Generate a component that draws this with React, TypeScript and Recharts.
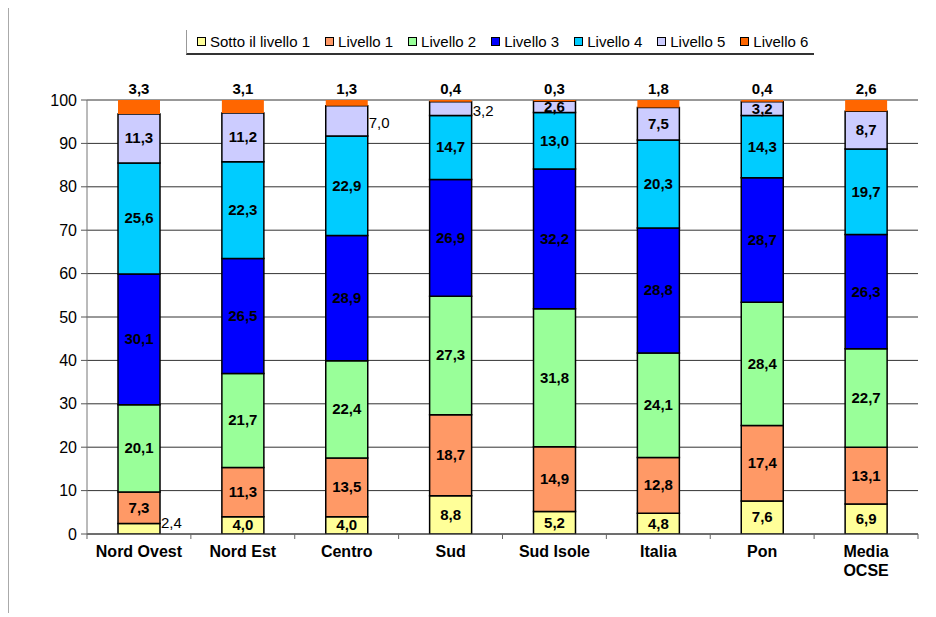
import React from 'react';
import { BarChart, Bar, XAxis, YAxis, CartesianGrid } from 'recharts';

const categories = ['Nord Ovest', 'Nord Est', 'Centro', 'Sud', 'Sud Isole', 'Italia', 'Pon', 'Media OCSE'];
const sotto1 = [2.4, 4.0, 4.0, 8.8, 5.2, 4.8, 7.6, 6.9];
const livello1 = [7.3, 11.3, 13.5, 18.7, 14.9, 12.8, 17.4, 13.1];
const livello2 = [20.1, 21.7, 22.4, 27.3, 31.8, 24.1, 28.4, 22.7];
const livello3 = [30.1, 26.5, 28.9, 26.9, 32.2, 28.8, 28.7, 26.3];
const livello4 = [25.6, 22.3, 22.9, 14.7, 13.0, 20.3, 14.3, 19.7];
const livello5 = [11.3, 11.2, 7.0, 3.2, 2.6, 7.5, 3.2, 8.7];
const livello6 = [3.3, 3.1, 1.3, 0.4, 0.3, 1.8, 0.4, 2.6];
const yTicks = [0, 10, 20, 30, 40, 50, 60, 70, 80, 90, 100];

const series = [
  { key: 's0', name: 'Sotto il livello 1', color: '#FFFF99', values: sotto1 },
  { key: 's1', name: 'Livello 1', color: '#FF9966', values: livello1 },
  { key: 's2', name: 'Livello 2', color: '#99FF99', values: livello2 },
  { key: 's3', name: 'Livello 3', color: '#0000FF', values: livello3 },
  { key: 's4', name: 'Livello 4', color: '#00CCFF', values: livello4 },
  { key: 's5', name: 'Livello 5', color: '#CCCCFF', values: livello5 },
  { key: 's6', name: 'Livello 6', color: '#FF6600', values: livello6 },
];

// labels drawn beside the bar instead of inside
const sideLabels: Record<string, number[]> = { s0: [0], s5: [2, 3] };

const data = categories.map((name, i) => {
  const row: Record<string, any> = { name };
  series.forEach((s) => (row[s.key] = s.values[i]));
  return row;
});

const font = '"Liberation Sans", Arial, sans-serif';
const fmt = (v: number) => v.toFixed(1).replace('.', ',');

const makeLabel = (s: (typeof series)[number]) => (props: any) => {
  const { x, y, width, height, index } = props;
  const v = s.values[index];
  if (s.key === 's6') {
    return (
      <text x={x + width / 2} y={y - 6} textAnchor="middle" fontSize={15} fontWeight="bold" fill="#000" fontFamily={font}>
        {fmt(v)}
      </text>
    );
  }
  if ((sideLabels[s.key] || []).includes(index)) {
    return (
      <text x={x + width + 1} y={s.key === 's0' ? y + height / 2 - 5 : y + height / 2 + 3} dominantBaseline="middle" fontSize={15} fill="#000" fontFamily={font}>
        {fmt(v)}
      </text>
    );
  }
  return (
    <text x={x + width / 2} y={y + height / 2 + 1} textAnchor="middle" dominantBaseline="middle" fontSize={15} fontWeight="bold" fill="#000" fontFamily={font}>
      {fmt(v)}
    </text>
  );
};

const XTick = (props: any) => {
  const { x, y, payload } = props;
  const lines = payload.value === 'Media OCSE' ? ['Media', 'OCSE'] : [payload.value];
  const half = 103.9 / 2;
  return (
    <g>
      <line x1={x - half} x2={x - half} y1={y - 8} y2={y - 3} stroke="#666" />
      {payload.index === categories.length - 1 && <line x1={x + half} x2={x + half} y1={y - 8} y2={y - 3} stroke="#666" />}
      {lines.map((l, i) => (
        <text key={i} x={x} y={y + 15 + i * 19} textAnchor="middle" fontSize={16} fontWeight="bold" fill="#000" fontFamily={font}>
          {l}
        </text>
      ))}
    </g>
  );
};

const LegendBox = () => (
  <div style={{ position: 'absolute', top: 22, left: 177, display: 'flex' }}>
    <div
      style={{
        display: 'flex',
        gap: 15,
        padding: '3px 6px 3px 10px',
        borderLeft: '1px solid #999',
        borderBottom: '2px solid #333',
        fontFamily: font,
        fontSize: 15,
        color: '#000',
        whiteSpace: 'nowrap',
      }}
    >
      {series.map((s) => (
        <span key={s.key} style={{ display: 'flex', alignItems: 'center' }}>
          <span style={{ width: 7, height: 7, background: s.color, border: '1px solid #000', marginRight: 4 }} />
          {s.name}
        </span>
      ))}
    </div>
  </div>
);

export default function App() {
  return (
    <div style={{ position: 'relative', width: 920, height: 605, borderLeft: '1px solid #aaa' }}>
      <LegendBox />
      <BarChart width={920} height={600} data={data} margin={{ top: 92, right: 11, bottom: 14, left: 18 }} barSize={42}>
        <CartesianGrid vertical={false} stroke="#333" />
        <XAxis dataKey="name" height={60} tick={<XTick />} tickLine={false} axisLine={{ stroke: '#444' }} interval={0} />
        <YAxis
          domain={[0, 100]}
          ticks={yTicks}
          allowDataOverflow
          width={60}
          axisLine={{ stroke: '#777' }}
          tickLine={{ stroke: '#555' }}
          tickSize={6}
          tickMargin={4}
          tick={{ fontSize: 16, fill: '#000', fontFamily: font }}
        />
        {series.map((s) => (
          <Bar
            key={s.key}
            dataKey={s.key}
            name={s.name}
            stackId="a"
            fill={s.color}
            stroke={s.key === 's6' ? 'none' : '#000'}
            strokeWidth={1.5}
            isAnimationActive={false}
            label={makeLabel(s)}
          />
        ))}
      </BarChart>
    </div>
  );
}
